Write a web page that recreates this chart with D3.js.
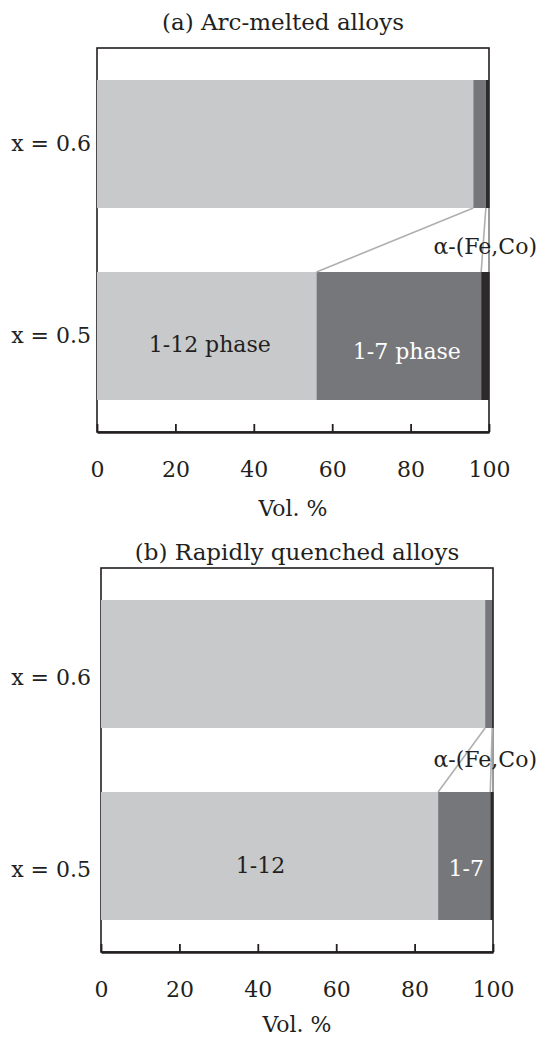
<!DOCTYPE html>
<html>
<head>
<meta charset="utf-8">
<script src="https://cdn.jsdelivr.net/npm/d3@7"></script>
<style>
  body { margin: 0; background: #fff; }
  text { font-family: "DejaVu Serif", serif; fill: #231f20; }
</style>
</head>
<body>
<svg id="chart" width="538" height="1038"></svg>
<script>
// rows, top to bottom
var rows = ["x = 0.6", "x = 0.5"];
var phases = ["p112", "p17", "pFe"];
var xTicks = [0, 20, 40, 60, 80, 100];

// (a) arc-melted, vol. %
var arc112 = [96, 56];
var arc17 = [3.2, 42];
var arcFe = [0.8, 2];

// (b) rapidly quenched, vol. %
var rq112 = [98, 86];
var rq17 = [1.8, 13.3];
var rqFe = [0.2, 0.7];

var colors = { p112: "#c8c9cb", p17: "#76777b", pFe: "#2d2a2b" };

var svg = d3.select("#chart");

function panel(opt) {
	var x = d3.scaleLinear().domain([0, 100]).range([opt.left, opt.right]);
	var y = d3.scaleBand().domain(rows).range([opt.top, opt.bottom])
		.paddingInner(1 / 3).paddingOuter(1 / 6);

	var data = rows.map(function(r, i) {
		return { row: r, p112: opt.v112[i], p17: opt.v17[i], pFe: opt.vFe[i] };
	});
	var series = d3.stack().keys(phases)(data);

	var g = svg.append("g");

	// frame
	g.append("rect")
		.attr("x", opt.left).attr("y", opt.top)
		.attr("width", opt.right - opt.left).attr("height", opt.bottom - opt.top)
		.attr("fill", "none").attr("stroke", "#231f20").attr("stroke-width", 1.6);

	// bars
	g.selectAll(".layer")
		.data(series).enter()
		.append("g")
			.attr("fill", function(d) { return colors[d.key]; })
		.selectAll("rect")
		.data(function(d) { return d; }).enter()
		.append("rect")
			.attr("x", function(d) { return x(d[0]); })
			.attr("width", function(d) { return x(d[1]) - x(d[0]); })
			.attr("y", function(d) { return y(d.data.row); })
			.attr("height", y.bandwidth());

	// connectors between the two bars
	var yA = y(rows[0]) + y.bandwidth();
	var yB = y(rows[1]);
	g.selectAll(".conn")
		.data(series).enter()
		.append("line")
			.attr("x1", function(d) { return x(d[0][1]); })
			.attr("y1", yA)
			.attr("x2", function(d) { return x(d[1][1]); })
			.attr("y2", yB)
			.attr("stroke", "#aeafb1").attr("stroke-width", 1.6);

	// bottom axis with inward ticks
	var axis = g.append("g")
		.attr("transform", "translate(0," + opt.bottom + ")")
		.call(d3.axisBottom(x).tickValues(xTicks).tickSize(-8).tickSizeOuter(0));
	axis.select(".domain").attr("stroke", "#231f20").attr("stroke-width", 2.4);
	axis.selectAll(".tick line").attr("stroke", "#231f20").attr("stroke-width", 1.8);
	axis.selectAll(".tick text")
		.attr("y", 45).attr("dy", 0)
		.style("font-family", "DejaVu Serif, serif")
		.style("font-size", "22px").attr("fill", "#231f20");

	g.append("text")
		.attr("x", (opt.left + opt.right) / 2).attr("y", opt.bottom + opt.volDy)
		.attr("text-anchor", "middle").style("font-size", "22px")
		.text("Vol. %");

	g.append("text")
		.attr("x", (opt.left + opt.right) / 2 + opt.titleDx).attr("y", opt.titleY)
		.attr("text-anchor", "middle").style("font-size", "23px")
		.text(opt.title);

	// row labels
	g.selectAll(".rowlab")
		.data(rows).enter()
		.append("text")
			.attr("x", 91)
			.attr("y", function(d) { return y(d) + y.bandwidth() / 2 + opt.rowDy; })
			.attr("text-anchor", "end").style("font-size", "22px")
			.text(function(d) { return d; });

	// phase labels on the lower bar
	var low = data[1];
	var yMid = y(rows[1]) + y.bandwidth() / 2;
	g.append("text")
		.attr("x", x(low.p112 / 2) + opt.lab112Dx).attr("y", yMid + opt.lab112Dy)
		.attr("text-anchor", "middle").style("font-size", "22px")
		.text(opt.lab112);
	g.append("text")
		.attr("x", x(low.p112 + low.p17 / 2) + opt.lab17Dx).attr("y", yMid + opt.lab17Dy)
		.attr("text-anchor", "middle").style("font-size", "22px")
		.style("fill", "#fff")
		.text(opt.lab17);

	g.append("text")
		.attr("x", 537).attr("y", yA + opt.feDy)
		.attr("text-anchor", "end").style("font-size", "22px")
		.text("α-(Fe,Co)");
}

panel({
	left: 97, right: 489, top: 48, bottom: 432,
	v112: arc112, v17: arc17, vFe: arcFe,
	title: "(a) Arc-melted alloys", titleY: 30, titleDx: -10, volDy: 84,
	rowDy: 7, lab112: "1-12 phase", lab112Dx: 3, lab112Dy: 16,
	lab17: "1-7 phase", lab17Dx: 8, lab17Dy: 23, feDy: 46
});

panel({
	left: 101, right: 493, top: 568, bottom: 952,
	v112: rq112, v17: rq17, vFe: rqFe,
	title: "(b) Rapidly quenched alloys", titleY: 560, titleDx: 0, volDy: 80,
	rowDy: 21, lab112: "1-12", lab112Dx: -9, lab112Dy: 17,
	lab17: "1-7", lab17Dx: 2, lab17Dy: 20, feDy: 39
});
</script>
</body>
</html>
